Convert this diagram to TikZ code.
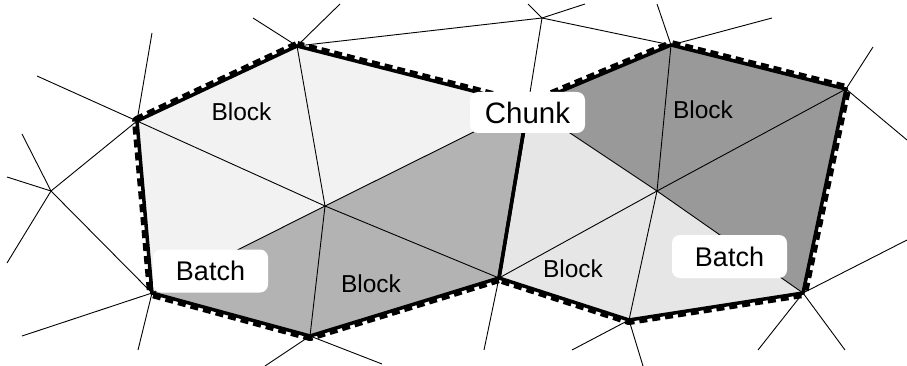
\documentclass[tikz,border=0pt]{standalone}
\usepackage{fontspec}
\setmainfont{Liberation Sans}
\definecolor{paleA}{HTML}{F2F2F2}
\definecolor{midA}{HTML}{B3B3B3}
\definecolor{paleB}{HTML}{E6E6E6}
\definecolor{darkB}{HTML}{999999}
\begin{document}
\begin{tikzpicture}[x=1pt,y=-1pt,
  wire/.style={line width=0.9pt, black},
  rimdash/.style={line width=10pt, dash pattern=on 8pt off 5pt, line join=round},
  rim/.style={line width=3.5pt, line join=miter},
  tag/.style={fill=white, rounded corners=8pt, inner sep=0pt, minimum width=115pt},
  blocktxt/.style={inner sep=0pt, font=\fontsize{24.5}{26}\selectfont}]
\useasboundingbox (0,0) rectangle (907,366);

% mesh vertices of the left batch
\coordinate (A) at (297,46);
\coordinate (B) at (137,121);
\coordinate (C) at (152,293);
\coordinate (D) at (310,336);
\coordinate (E) at (499,278);
\coordinate (G) at (528,105);
\coordinate (L) at (325,206);
% mesh vertices of the right batch
\coordinate (H) at (671,45);
\coordinate (I) at (846,89);
\coordinate (J) at (803,293);
\coordinate (K) at (629,320);
\coordinate (R) at (657,191);
% outer mesh vertices
\coordinate (T) at (542,18);
\coordinate (P) at (51,191);
% free ends of the surrounding mesh edges
\coordinate (a1) at (253,18);
\coordinate (a2) at (340,4);
\coordinate (t1) at (528,4);
\coordinate (t2) at (585,4);
\coordinate (h1) at (657,4);
\coordinate (h2) at (772,18);
\coordinate (i1) at (873,47);
\coordinate (i2) at (907,140);
\coordinate (j1) at (907,240);
\coordinate (j2) at (758,350);
\coordinate (j3) at (845,350);
\coordinate (k1) at (643,366);
\coordinate (k2) at (572,350);
\coordinate (e1) at (484,350);
\coordinate (d1) at (382,364);
\coordinate (d2) at (265,366);
\coordinate (c1) at (22,336);
\coordinate (c2) at (138,350);
\coordinate (p1) at (22,134);
\coordinate (p2) at (7,177);
\coordinate (p3) at (7,263);
\coordinate (b1) at (37,76);
\coordinate (b2) at (152,33);

% surrounding mesh
\foreach \u/\v in {A/a1,A/a2,A/T,T/t1,T/t2,T/H,T/G,H/h1,H/h2,I/i1,I/i2,
                   J/j1,J/j2,J/j3,K/k1,K/k2,E/e1,D/d1,D/d2,C/c1,C/c2,C/P,
                   P/p1,P/p2,P/p3,P/B,B/b1,B/b2}
  \draw[wire] (\u) -- (\v);

% dashed outer rims (inner half is hidden by the fills)
\draw[rimdash] (A) -- (B) -- (C) -- (D) -- (E) -- (G) -- cycle;
\draw[rimdash] (G) -- (H) -- (I) -- (J) -- (K) -- (E) -- cycle;

% left batch blocks
\fill[paleA] (L) -- (A) -- (B) -- cycle;
\fill[paleA] (L) -- (B) -- (C) -- cycle;
\fill[paleA] (L) -- (A) -- (G) -- cycle;
\fill[midA]  (L) -- (G) -- (E) -- cycle;
\fill[midA]  (L) -- (E) -- (D) -- cycle;
\fill[midA]  (L) -- (D) -- (C) -- cycle;
% right batch blocks
\fill[darkB] (R) -- (G) -- (H) -- cycle;
\fill[darkB] (R) -- (H) -- (I) -- cycle;
\fill[darkB] (R) -- (I) -- (J) -- cycle;
\fill[paleB] (R) -- (J) -- (K) -- cycle;
\fill[paleB] (R) -- (K) -- (E) -- cycle;
\fill[paleB] (R) -- (E) -- (G) -- cycle;

% interior mesh edges
\foreach \v in {A,B,C,D,E,G} \draw[wire] (L) -- (\v);
\foreach \v in {G,H,I,J,K,E} \draw[wire] (R) -- (\v);

% solid rims
\draw[rim] (A) -- (B) -- (C) -- (D) -- (E) -- (G) -- cycle;
\draw[rim] (G) -- (H) -- (I) -- (J) -- (K) -- (E) -- cycle;

% labels
\node[blocktxt] (blk1) at (241.5,111.5) {Block};
\node[blocktxt] (blk2) at (703,110) {Block};
\node[blocktxt] (blk3) at (371,284) {Block};
\node[blocktxt] (blk4) at (573,269) {Block};
\node[tag, minimum height=41pt, font=\fontsize{29.5}{31}\selectfont] (chunk) at (527.5,112.5) {Chunk};
\node[tag, minimum height=43pt, font=\fontsize{27}{29}\selectfont] (batch1) at (210.5,271) {Batch};
\node[tag, minimum height=43pt, font=\fontsize{27}{29}\selectfont] (batch2) at (729.5,256.5) {Batch};
\end{tikzpicture}
\end{document}
